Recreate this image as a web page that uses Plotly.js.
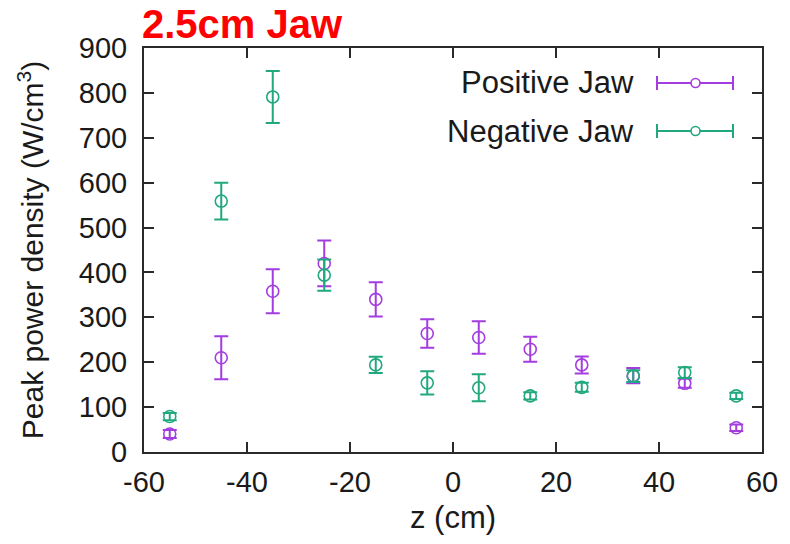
<!DOCTYPE html>
<html>
<head>
<meta charset="utf-8">
<script src="https://cdn.plot.ly/plotly-3.0.1.min.js"></script>
<style>html,body{margin:0;padding:0;background:#fff;}#chart{width:790px;height:544px;}</style>
</head>
<body>
<div id="chart"></div>
<script>
// Data
const zPositions = [-55, -45, -35, -25, -15, -5, 5, 15, 25, 35, 45, 55];
const positiveJaw = [40, 210, 358, 420, 340, 264, 255, 229, 194, 170, 153, 54];
const positiveErr = [9, 48, 49, 51, 38, 32, 36, 28, 19, 17, 10, 7];
const negativeJaw = [79, 559, 791, 394, 194, 154, 143, 125, 144, 169, 177, 125];
const negativeErr = [8, 41, 58, 35, 18, 26, 30, 8, 10, 13, 12, 7];
const seriesNames = ["Positive Jaw", "Negative Jaw"];
const xTicks = [-60, -40, -20, 0, 20, 40, 60];
const yTicks = [0, 100, 200, 300, 400, 500, 600, 700, 800, 900];

const purple = '#a33de0';
const green = '#22a87f';
const textColor = '#1a1a1a';
const axisColor = '#2a2a2a';
const FONT = 'Liberation Sans, Arial, sans-serif';

const W = 790, H = 544;
const M = {l: 144, r: 28, t: 48, b: 92};
const PW = W - M.l - M.r, PH = H - M.t - M.b;
const px = x => (x - M.l) / PW;
const py = y => (H - M.b - y) / PH;

function trace(y, err, name, color) {
  return {
    x: zPositions, y: y, name: name, type: 'scatter', mode: 'markers',
    marker: {symbol: 'circle-open', size: 12, color: color, line: {width: 1.6, color: color}},
    error_y: {type: 'data', array: err, visible: true, color: color, thickness: 2, width: 7},
    showlegend: false, cliponaxis: false
  };
}

const data = [
  trace(positiveJaw, positiveErr, seriesNames[0], purple),
  trace(negativeJaw, negativeErr, seriesNames[1], green)
];

// Legend drawn gnuplot-style: text on the left, sample on the right
const legendRows = [{y: 83, color: purple, name: seriesNames[0]}, {y: 131, color: green, name: seriesNames[1]}];
const shapes = [];
const annotations = [];
legendRows.forEach(r => {
  const x0 = 657, x1 = 733, xc = 695.5;
  shapes.push({type: 'line', xref: 'paper', yref: 'paper', x0: px(x0), x1: px(x1), y0: py(r.y), y1: py(r.y), line: {color: r.color, width: 2}});
  shapes.push({type: 'line', xref: 'paper', yref: 'paper', x0: px(x0), x1: px(x0), y0: py(r.y - 7), y1: py(r.y + 7), line: {color: r.color, width: 2}});
  shapes.push({type: 'line', xref: 'paper', yref: 'paper', x0: px(x1), x1: px(x1), y0: py(r.y - 7), y1: py(r.y + 7), line: {color: r.color, width: 2}});
  shapes.push({type: 'circle', xref: 'paper', yref: 'paper', x0: px(xc - 4.5), x1: px(xc + 4.5), y0: py(r.y - 4.5), y1: py(r.y + 4.5), line: {color: r.color, width: 1.6}, fillcolor: 'white'});
  annotations.push({xref: 'paper', yref: 'paper', x: px(636), y: py(r.y), xanchor: 'right', yanchor: 'middle', text: r.name, showarrow: false, font: {family: FONT, size: 31, color: textColor}});
});

const axisCommon = {
  showline: true, mirror: 'ticks', linecolor: axisColor, linewidth: 2,
  ticks: 'inside', ticklen: 10, tickwidth: 2, tickcolor: axisColor,
  showgrid: false, zeroline: false,
  tickfont: {family: FONT, size: 29, color: textColor}
};

const layout = {
  width: W, height: H,
  margin: M,
  paper_bgcolor: '#fff', plot_bgcolor: '#fff',
  title: {
    text: '<b>2.5cm Jaw</b>', xref: 'container', yref: 'container',
    x: 142 / W, xanchor: 'left', y: 1 - 10 / H, yanchor: 'top',
    font: {family: FONT, size: 40, color: '#ff0000'}
  },
  xaxis: Object.assign({}, axisCommon, {
    range: [-60, 60], tickvals: xTicks, ticktext: xTicks.map(String),
    ticklabelstandoff: 3,
    title: {text: 'z (cm)', standoff: 10, font: {family: FONT, size: 31, color: textColor}}
  }),
  yaxis: Object.assign({}, axisCommon, {
    range: [0, 900], tickvals: yTicks, ticktext: yTicks.map(String),
    ticklabelstandoff: 9,
    title: {text: 'Peak power density (W/cm<sup>3</sup>)', standoff: 26, font: {family: FONT, size: 30, color: textColor}}
  }),
  shapes: shapes,
  annotations: annotations,
  showlegend: false
};

Plotly.newPlot('chart', data, layout, {displayModeBar: false, staticPlot: true});
</script>
</body>
</html>
